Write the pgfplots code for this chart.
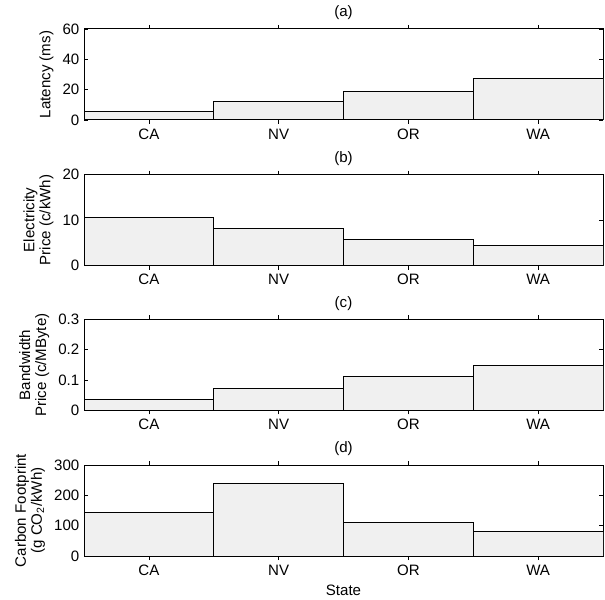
\documentclass[border=0pt]{standalone}
\usepackage{fontspec}
\setmainfont{Liberation Sans}
\usepackage{pgfplots}
\pgfplotsset{compat=1.18}
\definecolor{barfill}{RGB}{240,240,240}
\newcommand{\chartfont}{\fontsize{11.3}{12}\selectfont}
\pgfplotsset{
  panel/.style={
    scale only axis, width=389.25pt, height=68.25pt,
    anchor=south west,
    xmin=0.5, xmax=4.5, ymin=0,
    xtick={1,2,3,4}, xticklabels={CA,NV,OR,WA},
    tick align=inside, major tick length=3pt,
    tick style={black, line width=0.5pt},
    axis line style={line width=0.75pt},
    ybar, bar width=1, bar shift=0pt,
    /pgf/number format/assume math mode=true,
    yticklabel style={/pgf/number format/fixed},
    tick label style={font=\chartfont},
    label style={font=\chartfont, align=center},
    title style={font=\chartfont, yshift=-2.75pt},
  },
  bars/.style={fill=barfill, draw=black, line width=0.75pt},
}
\begin{document}
\begin{tikzpicture}
\path[use as bounding box] (0,0) rectangle (453.75pt,449.25pt);
% (a) latency
\begin{axis}[panel, at={(63pt,359.25pt)}, ymax=60, ytick={0,20,40,60},
  title={(a)}, ylabel={Latency (ms)}]
\addplot[bars] coordinates {(1,5.9)(2,12.4)(3,18.8)(4,27.6)};
\end{axis}
% (b) electricity price
\begin{axis}[panel, at={(63pt,250.1pt)}, ymax=20, ytick={0,10,20},
  title={(b)}, ylabel={Electricity\\Price (c/kWh)}]
\addplot[bars] coordinates {(1,10.5)(2,8.1)(3,5.7)(4,4.4)};
\end{axis}
% (c) bandwidth price
\begin{axis}[panel, at={(63pt,141.4pt)}, ymax=0.3, ytick={0,0.1,0.2,0.3},
  title={(c)}, ylabel={Bandwidth\\Price (c/MByte)}]
\addplot[bars] coordinates {(1,0.037)(2,0.074)(3,0.111)(4,0.148)};
\end{axis}
% (d) carbon footprint
\begin{axis}[panel, at={(63pt,32.25pt)}, ymax=300, ytick={0,100,200,300},
  title={(d)}, ylabel={Carbon Footprint\\(g CO\textsubscript{2}/kWh)},
  xlabel={State}]
\addplot[bars] coordinates {(1,143)(2,240)(3,110)(4,80)};
\end{axis}
\end{tikzpicture}
\end{document}
